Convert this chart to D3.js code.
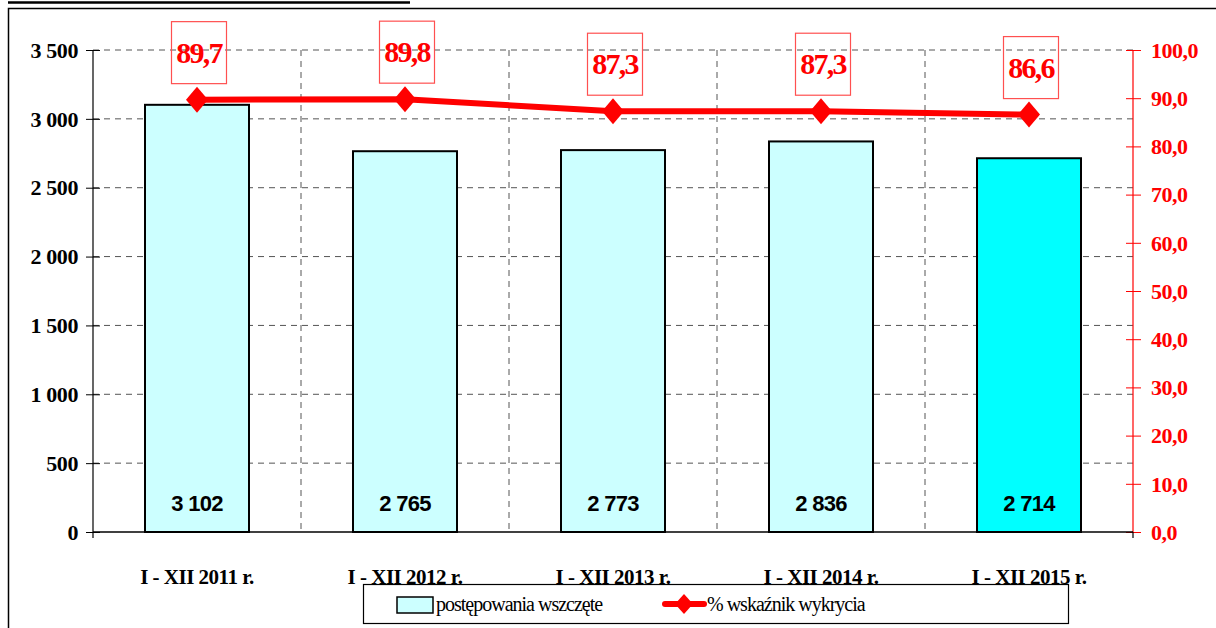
<!DOCTYPE html>
<html><head><meta charset="utf-8">
<script src="https://cdn.jsdelivr.net/npm/d3@7"></script>
<style>body{margin:0;background:#fff;}svg{display:block;}</style>
</head><body>
<svg id="chart" width="1216" height="628"></svg>
<script>
const categories = ["I - XII 2011 r.","I - XII 2012 r.","I - XII 2013 r.","I - XII 2014 r.","I - XII 2015 r."];
const cases = [3102, 2765, 2773, 2836, 2714];
const detection = [89.7, 89.8, 87.3, 87.3, 86.6];
const leftTicks = [0,500,1000,1500,2000,2500,3000,3500];
const rightTicks = [0,10,20,30,40,50,60,70,80,90,100];
const seriesNames = ["postępowania wszczęte","% wskaźnik wykrycia"];

const svg = d3.select("#chart");
const serif = "Liberation Serif";
const sans = "Liberation Sans";
const L = 93, R = 1133, T = 50, B = 532;

const x = d3.scaleBand().domain(categories).range([L, R]).paddingInner(0.5).paddingOuter(0.25);
const yL = d3.scaleLinear().domain([0, 3500]).range([B, T]);
const yR = d3.scaleLinear().domain([0, 100]).range([B, T]);
const fmtSp = d => d3.format(",")(d).replace(/,/g, " ");
const fmtComma = d => d3.format(".1f")(d).replace(".", ",");

// outer frame & title underline
svg.append("rect").attr("x", 8.5).attr("y", 8.5).attr("width", 1220).attr("height", 640)
  .attr("fill", "none").attr("stroke", "#000").attr("stroke-width", 1.5);
svg.append("line").attr("x1", 8).attr("x2", 410).attr("y1", 2.5).attr("y2", 2.5)
  .attr("stroke", "#000").attr("stroke-width", 2.5);

// horizontal grid
svg.append("g").selectAll("line").data(leftTicks.filter(d => d > 0)).join("line")
  .attr("x1", L).attr("x2", R).attr("y1", d => yL(d)).attr("y2", d => yL(d))
  .attr("stroke", "#555").attr("stroke-width", 1).attr("stroke-dasharray", "6,5");
// vertical grid at category boundaries
const step = x.step();
svg.append("g").selectAll("line").data(categories.slice(1)).join("line")
  .attr("x1", d => x(d) - (step - x.bandwidth()) / 2).attr("x2", d => x(d) - (step - x.bandwidth()) / 2)
  .attr("y1", T).attr("y2", B)
  .attr("stroke", "#555").attr("stroke-width", 1).attr("stroke-dasharray", "6,5");

// bars
svg.append("g").selectAll("rect").data(cases).join("rect")
  .attr("x", (d, i) => x(categories[i])).attr("width", x.bandwidth())
  .attr("y", d => yL(d)).attr("height", d => yL(0) - yL(d))
  .attr("fill", (d, i) => i === cases.length - 1 ? "#00FFFF" : "#CCFFFF")
  .attr("stroke", "#000").attr("stroke-width", 2);

// bar value labels
svg.append("g").selectAll("text").data(cases).join("text")
  .attr("x", (d, i) => x(categories[i]) + x.bandwidth() / 2).attr("y", 511)
  .attr("text-anchor", "middle").style("font-family", sans).attr("font-weight", "bold")
  .attr("font-size", 22).attr("letter-spacing", -0.7).attr("fill", "#000").text(d => fmtSp(d));

// left axis
const gl = svg.append("g").attr("transform", `translate(${L},0)`)
  .call(d3.axisLeft(yL).tickValues(leftTicks).tickSize(7).tickPadding(8).tickFormat(fmtSp));
gl.attr("font-family", null).attr("font-size", null);
gl.select(".domain").remove();
gl.selectAll(".tick line").attr("x1", 7).attr("x2", -7).attr("stroke", "#000");
gl.selectAll(".tick text").style("font-family", serif).attr("font-weight", "bold")
  .attr("font-size", 22).attr("letter-spacing", -0.4).attr("fill", "#000").attr("dy", "0.33em");
svg.append("line").attr("x1", L).attr("x2", L).attr("y1", T).attr("y2", B + 6).attr("stroke", "#000").attr("stroke-width", 1.2);

// right axis
const gr = svg.append("g").attr("transform", `translate(${R},0)`)
  .call(d3.axisRight(yR).tickValues(rightTicks).tickSize(8).tickPadding(10).tickFormat(fmtComma));
gr.attr("font-family", null).attr("font-size", null);
gr.select(".domain").remove();
gr.selectAll(".tick line").attr("x1", -7).attr("x2", 8).attr("stroke", "#f00");
gr.selectAll(".tick text").style("font-family", serif).attr("font-weight", "bold")
  .attr("font-size", 22).attr("letter-spacing", -0.5).attr("fill", "#f00").attr("dy", "0.33em");
svg.append("line").attr("x1", R).attr("x2", R).attr("y1", B).attr("y2", B + 6).attr("stroke", "#000").attr("stroke-width", 1.2);
svg.append("line").attr("x1", R).attr("x2", R).attr("y1", T).attr("y2", B).attr("stroke", "#f00").attr("stroke-width", 1.2);

// baseline
svg.append("line").attr("x1", L).attr("x2", R).attr("y1", B).attr("y2", B).attr("stroke", "#000").attr("stroke-width", 1.5);

// category labels
svg.append("g").selectAll("text").data(categories).join("text")
  .attr("x", d => x(d) + x.bandwidth() / 2).attr("y", 584)
  .attr("text-anchor", "middle").style("font-family", serif).attr("font-weight", "bold")
  .attr("font-size", 21).attr("letter-spacing", -0.5).attr("fill", "#000").text(d => d);

// line series
const cx = (i) => x(categories[i]) + x.bandwidth() / 2;
const line = d3.line().x((d, i) => cx(i)).y(d => yR(d));
svg.append("path").datum(detection).attr("d", line).attr("fill", "none")
  .attr("stroke", "#f00").attr("stroke-width", 6).attr("stroke-linejoin", "round");
const diamond = (px, py, w, h) => `M${px},${py - h}L${px + w},${py}L${px},${py + h}L${px - w},${py}Z`;
svg.append("g").selectAll("path").data(detection).join("path")
  .attr("d", (d, i) => diamond(cx(i), yR(d), 11, 13)).attr("fill", "#f00");

// data label boxes
const lbl = svg.append("g").selectAll("g").data(detection).join("g")
  .attr("transform", (d, i) => `translate(${cx(i) + 2},${yR(d) - 16})`);
lbl.append("rect").attr("x", -27.5).attr("y", -62).attr("width", 55).attr("height", 62)
  .attr("fill", "none").attr("stroke", "#ff5050").attr("stroke-width", 1.2);
lbl.append("text").attr("x", 0).attr("y", -21).attr("text-anchor", "middle")
  .style("font-family", serif).attr("font-weight", "bold").attr("font-size", 30)
  .attr("letter-spacing", -1.8).attr("fill", "#f00").text(d => fmtComma(d));

// legend
const lg = svg.append("g");
lg.append("rect").attr("x", 363.5).attr("y", 584.5).attr("width", 705).attr("height", 39)
  .attr("fill", "#fff").attr("stroke", "#000").attr("stroke-width", 1.2);
lg.append("rect").attr("x", 397).attr("y", 597).attr("width", 36).attr("height", 16)
  .attr("fill", "#CCFFFF").attr("stroke", "#000").attr("stroke-width", 1.5);
lg.append("text").attr("x", 436).attr("y", 611).style("font-family", serif).attr("font-size", 20)
  .attr("letter-spacing", -1).attr("fill", "#000").text(seriesNames[0]);
lg.append("line").attr("x1", 665).attr("x2", 704).attr("y1", 604).attr("y2", 604)
  .attr("stroke", "#f00").attr("stroke-width", 6).attr("stroke-linecap", "round");
lg.append("path").attr("d", diamond(684, 604, 9, 10)).attr("fill", "#f00");
lg.append("text").attr("x", 707).attr("y", 611).style("font-family", serif).attr("font-size", 20)
  .attr("letter-spacing", -1).attr("fill", "#000").text(seriesNames[1]);
</script>
</body></html>
